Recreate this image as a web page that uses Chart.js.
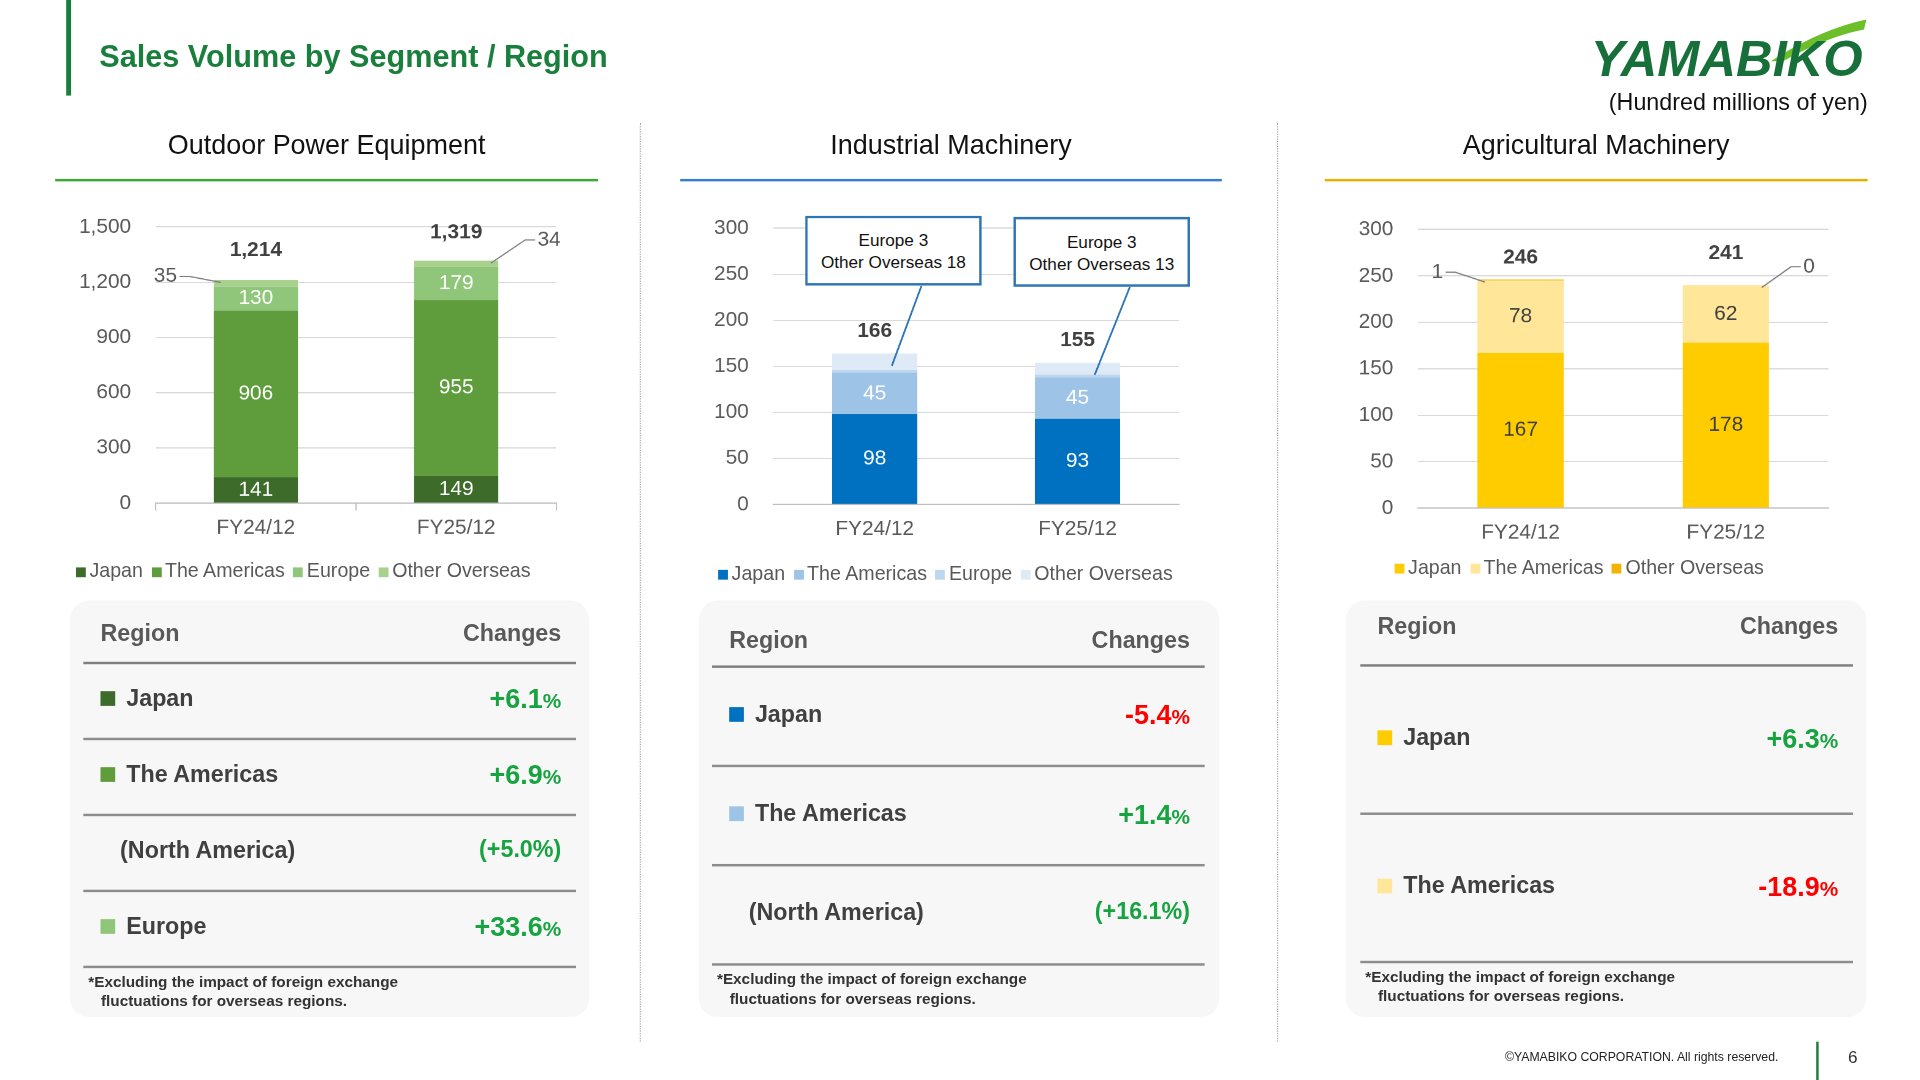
<!DOCTYPE html>
<html><head><meta charset="utf-8">
<script src="https://cdn.jsdelivr.net/npm/chart.js@4"></script>
<style>
body{margin:0;width:1920px;height:1080px;overflow:hidden;background:#fff;font-family:"Liberation Sans",Arial,sans-serif}
#page{position:absolute;left:0;top:0;width:1553px;height:883px;transform:scale(1.2255);transform-origin:0 0}
.abs{position:absolute}
.ptitle{position:absolute;font-size:22px;color:#111;text-align:center}
.uline{position:absolute;height:2px}
.sep{position:absolute;width:0;border-left:1.5px dotted #aaa;top:100px;height:750px}
.legend{position:absolute;font-size:16px;color:#595959;white-space:nowrap}
.legend span.sq{display:inline-block;width:8px;height:8px;margin:0 3px 0 0}
.legend span.it{margin-right:7px}
.box{position:absolute;background:#f7f7f7;border-radius:16px}
.th{position:absolute;font-size:19px;font-weight:bold;color:#595959}
.hl{position:absolute;height:1.5px;background:#7f7f7f}
.rn{position:absolute;font-size:19px;font-weight:bold;color:#404040}
.rv{position:absolute;font-size:22px;font-weight:bold;text-align:right}
.rv small{font-size:17px}
.fn{position:absolute;font-size:12.5px;font-weight:bold;color:#333;line-height:16px}
.call{position:absolute;border:2px solid #2e75b6;background:#fff;font-size:14px;text-align:center;line-height:18px;color:#111;padding-top:9px;box-sizing:border-box}
canvas{position:absolute}
</style></head><body>
<div id="page">
<div class="abs" style="left:54px;top:0;width:4px;height:78px;background:#1a7f3c"></div>
<div class="abs" style="left:81px;top:32px;font-size:25px;font-weight:bold;color:#1a7f3c">Sales Volume by Segment / Region</div>
<svg class="abs" style="left:1295px;top:10px" width="235" height="62">
 <path d="M150 40 Q190 14 228 6 L226 14 Q195 20 160 40 Z" fill="#6cbf2a"/>
 <text x="3" y="52" font-family="Liberation Sans" font-weight="bold" font-style="italic" font-size="40" fill="#17703a" textLength="222" lengthAdjust="spacingAndGlyphs">YAMABIKO</text>
</svg>
<div class="abs" style="right:29px;top:73px;font-size:19px;color:#111">(Hundred millions of yen)</div>

<div class="ptitle" style="left:45px;width:443px;top:106px">Outdoor Power Equipment</div>
<div class="uline" style="left:45px;width:443px;top:146px;background:#3aaa35"></div>
<div class="ptitle" style="left:555px;width:442px;top:106px">Industrial Machinery</div>
<div class="uline" style="left:555px;width:442px;top:146px;background:#3a7bd5"></div>
<div class="ptitle" style="left:1081px;width:443px;top:106px">Agricultural Machinery</div>
<div class="uline" style="left:1081px;width:443px;top:146px;background:#e8b100"></div>
<div class="sep" style="left:522px"></div>
<div class="sep" style="left:1042px"></div>

<canvas id="c1" style="left:52px;top:155px;width:420px;height:290px"></canvas>
<canvas id="c2" style="left:556px;top:156px;width:424px;height:290px"></canvas>
<canvas id="c3" style="left:1082px;top:157px;width:428px;height:292px"></canvas>

<div class="call" style="left:657px;top:176px;width:144px;height:57px">Europe 3<br>Other Overseas 18</div>
<div class="call" style="left:827px;top:177px;width:144px;height:57px">Europe 3<br>Other Overseas 13</div>

<div class="legend" id="l1" style="left:62px;top:457px"></div>
<div class="legend" id="l2" style="left:586px;top:459px"></div>
<div class="legend" id="l3" style="left:1138px;top:454px"></div>

<div class="box" style="left:57px;top:490px;width:424px;height:340px"></div>
<div class="box" style="left:570px;top:490px;width:425px;height:340px"></div>
<div class="box" style="left:1098px;top:490px;width:425px;height:340px"></div>
<div id="tables"></div>

<div class="abs" style="left:1228px;top:857px;font-size:10px;color:#222">©YAMABIKO CORPORATION. All rights reserved.</div>
<div class="abs" style="left:1482px;top:850px;width:2px;height:33px;background:#1a7f3c"></div>
<div class="abs" style="left:1508px;top:854px;font-size:14px;color:#333">6</div>
</div>
<script>
// chart data
const periods = ['FY24/12', 'FY25/12'];
const opeJapan = [141, 149];
const opeAmericas = [906, 955];
const opeEurope = [130, 179];
const opeOther = [35, 34];
const opeTotal = ['1,214', '1,319'];

const imJapan = [98, 93];
const imAmericas = [45, 45];
const imEurope = [3, 3];
const imOther = [18, 13];
const imTotal = ['166', '155'];

const amJapan = [167, 178];
const amAmericas = [78, 62];
const amOther = [1, 0];
const amTotal = ['246', '241'];

// region tables
const opeRows = [['Japan', '+6.1', '#3d6b2a'], ['The Americas', '+6.9', '#5e9c3c'], ['(North America)', '(+5.0%)', null], ['Europe', '+33.6', '#8fc67a']];
const imRows = [['Japan', '-5.4', '#0070c0'], ['The Americas', '+1.4', '#9dc3e6'], ['(North America)', '(+16.1%)', null]];
const amRows = [['Japan', '+6.3', '#ffcc00'], ['The Americas', '-18.9', '#ffe699']];

const labelPlugin = {
  id: 'labelPlugin',
  afterDatasetsDraw(chart) {
    const o = chart.options.plugins.labelPlugin;
    const ctx = chart.ctx;
    ctx.save();
    ctx.textAlign = 'center'; ctx.textBaseline = 'middle';
    chart.data.datasets.forEach((ds, di) => {
      const col = o.inner[di];
      if (!col) return;
      chart.getDatasetMeta(di).data.forEach((el, i) => {
        ctx.fillStyle = col; ctx.font = '17px "Liberation Sans"';
        ctx.fillText(ds.data[i], el.x, (el.y + el.base) / 2);
      });
    });
    const last = chart.getDatasetMeta(chart.data.datasets.length - 1).data;
    last.forEach((el, i) => {
      ctx.fillStyle = '#404040'; ctx.font = 'bold 17px "Liberation Sans"';
      ctx.fillText(o.totals[i], el.x, el.y - o.totalGap[i]);
    });
    ctx.strokeStyle = '#7f7f7f'; ctx.lineWidth = 1;
    (o.outer || []).forEach(p => {
      const el = chart.getDatasetMeta(p.ds).data[p.i];
      const val = chart.data.datasets[p.ds].data[p.i];
      const w = el.width / 2, side = p.side;
      const ex = el.x + side * w, ey = el.y + 2;
      const lx = ex + side * p.dx, ly = ey - p.dy;
      ctx.beginPath(); ctx.moveTo(ex - side * 6, ey); ctx.lineTo(lx - side * 10, ly); ctx.lineTo(lx - side * 2, ly); ctx.stroke();
      ctx.fillStyle = '#595959'; ctx.font = '17px "Liberation Sans"';
      ctx.textAlign = side < 0 ? 'right' : 'left';
      ctx.fillText(val, lx, ly);
    });
    (o.callouts || []).forEach(c => {
      const el = last[c.i];
      ctx.strokeStyle = '#2e75b6'; ctx.lineWidth = 1.5;
      ctx.beginPath(); ctx.moveTo(c.x, c.y); ctx.lineTo(el.x + 14, el.y + 10); ctx.stroke();
    });
    ctx.restore();
  }
};

function makeChart(id, datasets, max, step, fmt, lo, xline) {
  return new Chart(document.getElementById(id), {
    type: 'bar',
    data: { labels: periods, datasets: datasets },
    plugins: [labelPlugin],
    options: {
      responsive: false, animation: false, devicePixelRatio: 2,
      layout: { padding: { top: 5, right: 18 } },
      datasets: { bar: { barPercentage: 0.42, categoryPercentage: 1 } },
      plugins: { legend: { display: false }, tooltip: { enabled: false }, labelPlugin: lo },
      scales: {
        x: { stacked: true, grid: { display: xline, drawOnChartArea: false, color: '#bfbfbf', tickLength: 6 },
             border: { color: '#bfbfbf' },
             ticks: { color: '#595959', font: { size: 17, family: 'Liberation Sans' }, padding: 4 } },
        y: { stacked: true, min: 0, max: max, afterFit: s => { s.width = 75; },
             grid: { color: '#d9d9d9', drawTicks: false }, border: { display: false },
             ticks: { stepSize: step, color: '#595959', padding: 20, font: { size: 17, family: 'Liberation Sans' },
                      callback: v => fmt ? v.toLocaleString('en-US') : v } }
      }
    }
  });
}

makeChart('c1', [
  { label: 'Japan', data: opeJapan, backgroundColor: '#3d6b2a' },
  { label: 'The Americas', data: opeAmericas, backgroundColor: '#5e9c3c' },
  { label: 'Europe', data: opeEurope, backgroundColor: '#8fc67a' },
  { label: 'Other Overseas', data: opeOther, backgroundColor: '#a9d18e' }
], 1500, 300, true, {
  inner: ['#fff', '#fff', '#fff', null], totals: opeTotal, totalGap: [24, 23],
  outer: [{ ds: 3, i: 0, side: -1, dx: 30, dy: 5 }, { ds: 3, i: 1, side: 1, dx: 32, dy: 19 }]
}, true);

makeChart('c2', [
  { label: 'Japan', data: imJapan, backgroundColor: '#0070c0' },
  { label: 'The Americas', data: imAmericas, backgroundColor: '#9dc3e6' },
  { label: 'Europe', data: imEurope, backgroundColor: '#bdd7ee' },
  { label: 'Other Overseas', data: imOther, backgroundColor: '#deebf7' }
], 300, 50, false, {
  inner: ['#fff', '#fff', null, null], totals: imTotal, totalGap: [18, 18],
  callouts: [{ i: 0, x: 196, y: 77 }, { i: 1, x: 366, y: 78 }]
}, false);

makeChart('c3', [
  { label: 'Japan', data: amJapan, backgroundColor: '#ffcc00' },
  { label: 'The Americas', data: amAmericas, backgroundColor: '#ffe699' },
  { label: 'Other Overseas', data: amOther, backgroundColor: '#f2b400' }
], 300, 50, false, {
  inner: ['#404040', '#404040', null], totals: amTotal, totalGap: [18, 26],
  outer: [{ ds: 2, i: 0, side: -1, dx: 28, dy: 8 }, { ds: 2, i: 1, side: 1, dx: 28, dy: 17 }]
}, false);

function legend(id, items) {
  document.getElementById(id).innerHTML = items.map(it =>
    '<span class="sq" style="background:' + it[1] + '"></span><span class="it">' + it[0] + '</span>').join('');
}
legend('l1', [['Japan', '#3d6b2a'], ['The Americas', '#5e9c3c'], ['Europe', '#8fc67a'], ['Other Overseas', '#a9d18e']]);
legend('l2', [['Japan', '#0070c0'], ['The Americas', '#9dc3e6'], ['Europe', '#bdd7ee'], ['Other Overseas', '#deebf7']]);
legend('l3', [['Japan', '#ffcc00'], ['The Americas', '#ffe699'], ['Other Overseas', '#f2b400']]);

function table(left, width, headY, lineY, rowH, rows) {
  let h = '';
  h += '<div class="th" style="left:' + (left + 14) + 'px;top:' + (headY - 11) + 'px">Region</div>';
  h += '<div class="th" style="left:' + (left + width - 100) + 'px;width:88px;text-align:right;top:' + (headY - 11) + 'px">Changes</div>';
  h += '<div class="hl" style="left:' + left + 'px;width:' + width + 'px;top:' + lineY + 'px"></div>';
  rows.forEach((r, k) => {
    const cy = lineY + rowH * k + rowH / 2;
    const sq = r[2];
    if (sq) h += '<div class="abs" style="left:' + (left + 14) + 'px;top:' + (cy - 7) + 'px;width:12px;height:12px;background:' + sq + '"></div>';
    h += '<div class="rn" style="left:' + (left + (sq ? 35 : 30)) + 'px;top:' + (cy - 12) + 'px">' + r[0] + '</div>';
    const neg = r[1][0] === '-';
    const txt = sq ? r[1] + '<small>%</small>' : r[1];
    h += '<div class="rv" style="left:' + (left + width - 200) + 'px;width:188px;top:' + (cy - 13) + 'px;color:' + (neg ? '#ff0000' : '#17a340') + (sq ? '' : ';font-size:19px') + '">' + txt + '</div>';
    h += '<div class="hl" style="left:' + left + 'px;width:' + width + 'px;top:' + (lineY + rowH * (k + 1)) + 'px;background:#8c8c8c"></div>';
  });
  h += '<div class="fn" style="left:' + (left + 4) + 'px;top:' + (lineY + rowH * rows.length + 5) + 'px">*Excluding the impact of foreign exchange<br>&nbsp;&nbsp;&nbsp;fluctuations for overseas regions.</div>';
  return h;
}
document.getElementById('tables').innerHTML =
  table(68, 402, 517, 540, 62, opeRows) +
  table(581, 402, 523, 543, 81, imRows) +
  table(1110, 402, 511, 542, 121, amRows);
</script>
</body></html>
